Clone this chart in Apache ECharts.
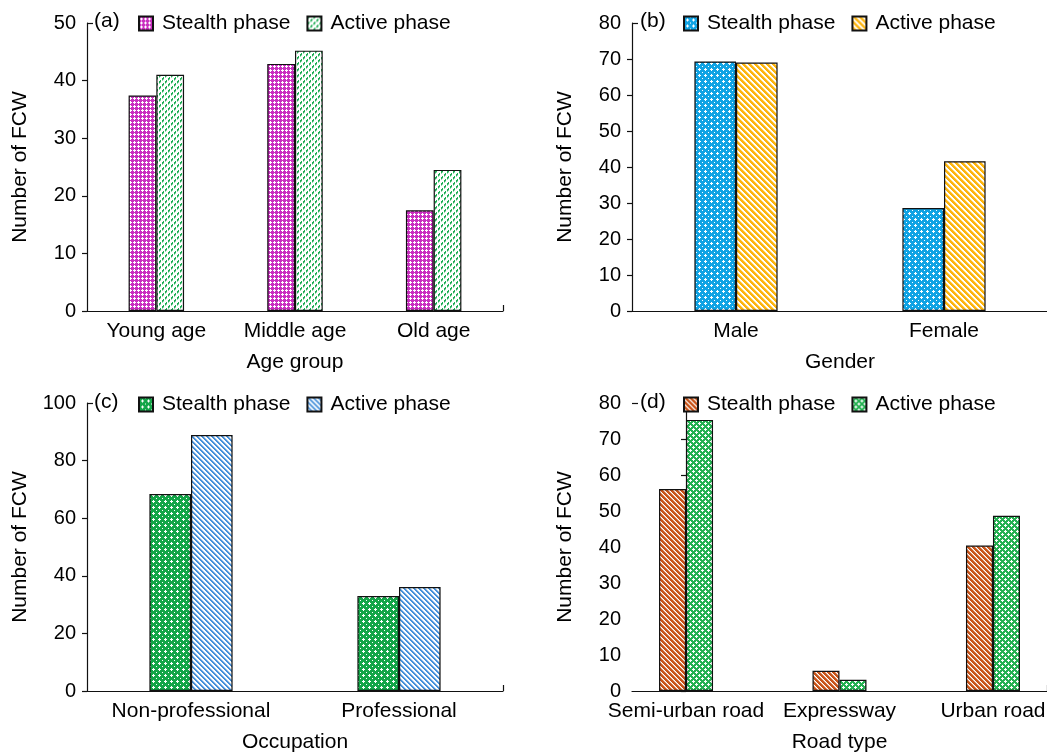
<!DOCTYPE html>
<html><head><meta charset="utf-8">
<script src="https://cdn.jsdelivr.net/npm/echarts@6/dist/echarts.min.js"></script>
<style>html,body{margin:0;padding:0;background:#fff}#c{width:1047px;height:753px}</style>
</head><body><div id="c"></div>
<script>
// ---- data ----
const ageCats = ['Young age', 'Middle age', 'Old age'];
const ageStealth = [37.4, 42.9, 17.5];
const ageActive = [41.0, 45.2, 24.5];
const ageTicks = {max: 50, interval: 10};

const genderCats = ['Male', 'Female'];
const genderStealth = [69.3, 28.6];
const genderActive = [69.0, 41.6];
const genderTicks = {max: 80, interval: 10};

const occCats = ['Non-professional', 'Professional'];
const occStealth = [68.4, 33.0];
const occActive = [88.9, 36.1];
const occTicks = {max: 100, interval: 20};

const roadCats = ['Semi-urban road', 'Expressway', 'Urban road'];
const roadStealth = [56.1, 5.6, 40.4];
const roadActive = [75.3, 3.1, 48.7];
const roadTicks = {max: 80, interval: 10};

const seriesNames = ['Stealth phase', 'Active phase'];
const yName = 'Number of FCW';
const xNames = ['Age group', 'Gender', 'Occupation', 'Road type'];
const panelLabels = ['(a)', '(b)', '(c)', '(d)'];

// ---- patterns ----
function tile(s, draw) {
  const c = document.createElement('canvas');
  c.width = s; c.height = s;
  const g = c.getContext('2d');
  draw(g, s);
  return {image: c, repeat: 'repeat'};
}
function dotPat(color, s, corner) {
  return tile(s, (g, s) => {
    g.fillStyle = color; g.fillRect(0, 0, s, s);
    g.fillStyle = '#fff';
    const h = Math.floor(s / 2);
    const plus = (x, y) => {
      [[0,0],[1,0],[-1,0],[0,1],[0,-1]].forEach(([dx, dy]) => {
        g.fillRect((x + dx + s) % s, (y + dy + s) % s, 1, 1);
      });
    };
    plus(h, h);
    if (corner === 'plus') plus(0, 0);
    else if (corner === 'dot') g.fillRect(0, 0, 1, 1);
  });
}
// pixel stripes: '\' uses (x - y), '/' uses (x + y)
function stripePat(color, s, k, dir, dashed) {
  return tile(s, (g, s) => {
    g.fillStyle = '#fff'; g.fillRect(0, 0, s, s);
    g.fillStyle = color;
    for (let y = 0; y < s; y++) for (let x = 0; x < s; x++) {
      const d = dir === '\\' ? ((x - y) % s + s) % s : (x + y) % s;
      if (dashed && x % 3 === 2) continue;
      if (d < k) { g.globalAlpha = 1; g.fillRect(x, y, 1, 1); }
      else if (d === k) { g.globalAlpha = 0.45; g.fillRect(x, y, 1, 1); }
    }
    g.globalAlpha = 1;
  });
}

const styles = [
  [dotPat('#c92fc0', 4), stripePat('#1fae55', 6, 2, '/', true)],
  [dotPat('#10a3e4', 6, 'dot'), stripePat('#fdb50f', 6, 3, '\\')],
  [dotPat('#13a548', 6, 'dot'), stripePat('#4690da', 5, 2, '\\')],
  [stripePat('#c8551a', 5, 3, '\\'), dotPat('#25b152', 6, 'plus')]
];

const grids = [
  {left: 87, top: 23, width: 416, height: 288},
  {left: 632, top: 23, width: 416, height: 288},
  {left: 87, top: 403, width: 416, height: 288},
  {left: 632, top: 403, width: 415, height: 288}
];
const legendPos = [
  {left: 138, top: 13, lab: 94},
  {left: 683, top: 13, lab: 640},
  {left: 138, top: 394, lab: 94},
  {left: 683, top: 394, lab: 640}
];

const cats = [ageCats, genderCats, occCats, roadCats];
const stealth = [ageStealth, genderStealth, occStealth, roadStealth];
const active = [ageActive, genderActive, occActive, roadActive];
const ticks = [ageTicks, genderTicks, occTicks, roadTicks];

const FONT = 'Liberation Sans, Arial, sans-serif';
const black = '#000';
const lineCol = '#111';

const option = {
  animation: false,
  textStyle: {fontFamily: FONT, color: black},
  title: [], legend: [], grid: [], xAxis: [], yAxis: [], series: []
};

for (let p = 0; p < 4; p++) {
  option.grid.push(Object.assign({outerBoundsMode: 'none', containLabel: false}, grids[p]));
  const isRoad = p === 3;
  const common = {
    axisLine: {lineStyle: {color: lineCol, width: 1.2}},
    axisTick: {show: false},
    name: xNames[p], nameLocation: 'middle', nameGap: 41,
    nameTextStyle: {fontSize: 21, color: black, fontFamily: FONT}
  };
  if (!isRoad) {
    option.xAxis.push(Object.assign({
      type: 'category', gridIndex: p, data: cats[p],
      axisLabel: {fontSize: 21, color: black, margin: 10, fontFamily: FONT}
    }, common));
  } else {
    option.xAxis.push(Object.assign({
      type: 'value', gridIndex: p, min: -0.352, max: 2.352,
      splitLine: {show: false},
      axisLabel: {fontSize: 21, color: black, margin: 10, fontFamily: FONT,
        customValues: [0, 1, 2], formatter: v => roadCats[Math.round(v)]}
    }, common));
  }
  const mainX = option.xAxis.length - 1;
  // right-end stub tick
  option.xAxis.push({
    type: 'value', gridIndex: p, min: 0, max: 1, position: 'bottom',
    axisLine: {show: false}, axisLabel: {show: false}, splitLine: {show: false},
    axisTick: {show: true, inside: true, length: 6, customValues: [1], lineStyle: {color: lineCol, width: 1.2}}
  });
  const t = ticks[p];
  const tv = [];
  for (let v = 0; v < t.max; v += t.interval) tv.push(v);
  option.yAxis.push({
    type: 'value', gridIndex: p, min: 0, max: t.max, interval: t.interval,
    axisLine: {show: true, lineStyle: {color: lineCol, width: 1.2}},
    axisTick: {show: true, length: 5, customValues: tv, lineStyle: {color: lineCol, width: 1.2}},
    axisLabel: {fontSize: 20, color: black, margin: 11, fontFamily: FONT},
    splitLine: {show: false},
    name: yName, nameLocation: 'middle', nameGap: 56, nameRotate: 90,
    nameTextStyle: {fontSize: 21, color: black, fontFamily: FONT}
  });
  const mainY = option.yAxis.length - 1;
  option.yAxis.push({
    type: 'value', gridIndex: p, min: 0, max: t.max, position: 'left',
    axisLine: {show: false}, axisLabel: {show: false}, splitLine: {show: false},
    axisTick: {show: true, inside: true, length: 6, customValues: [t.max], lineStyle: {color: lineCol, width: 1.2}}
  });

  const names = seriesNames.map(n => n + ' ' + panelLabels[p]);
  [stealth[p], active[p]].forEach((arr, k) => {
    option.series.push({
      type: 'bar', name: names[k], xAxisIndex: mainX, yAxisIndex: mainY,
      data: isRoad ? arr.map((v, i) => [i, v]) : arr,
      barWidth: isRoad ? 27 : '20%', barGap: '0%',
      itemStyle: {color: styles[p][k], borderColor: '#111', borderWidth: 1.2}
    });
  });

  option.legend.push({
    data: names, left: legendPos[p].left, top: legendPos[p].top, padding: 0,
    itemWidth: 14, itemHeight: 14, itemGap: 16, icon: 'rect',
    selectedMode: false,
    formatter: n => n.replace(/ \(.\)$/, ''),
    textStyle: {fontSize: 21, color: black, fontFamily: FONT, padding: [0, 0, 0, 4]}
  });
  option.title.push({
    text: panelLabels[p], left: legendPos[p].lab, top: legendPos[p].top - 2, padding: 0,
    textStyle: {fontSize: 21, fontWeight: 'normal', color: black, fontFamily: FONT}
  });
}

const chart = echarts.init(document.getElementById('c'), null, {renderer: 'canvas'});
chart.setOption(option);
</script>
</body></html>
